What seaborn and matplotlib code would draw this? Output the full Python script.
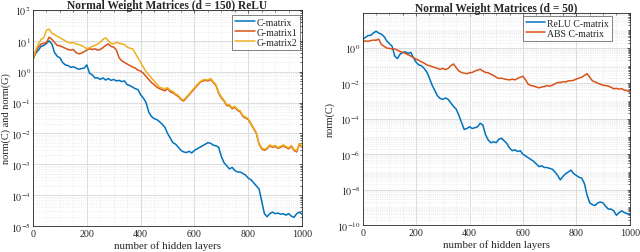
import numpy as np
import pandas as pd
import matplotlib
matplotlib.use("Agg")
import matplotlib.pyplot as plt
import seaborn as sns
from matplotlib.ticker import LogLocator, FixedLocator, NullFormatter

# ---- data (log10 of the norms, read every 10 layers) ----
layers = list(range(0, 1001, 10))

left_c_log = [0.41, 0.6, 0.7, 0.82, 0.85, 0.92, 1.0, 0.9, 0.62, 0.5,
              0.45, 0.3, 0.22, 0.2, 0.14, 0.16, 0.12, 0.08, 0.1, 0.12,
              0.22, -0.05, -0.1, -0.2, -0.2, -0.25, -0.2, -0.27, -0.22, -0.28,
              -0.25, -0.3, -0.28, -0.32, -0.3, -0.42, -0.45, -0.5, -0.55, -0.58,
              -0.75, -0.85, -1.0, -1.3, -1.45, -1.52, -1.55, -1.62, -1.7, -1.8,
              -2.0, -2.15, -2.3, -2.35, -2.45, -2.55, -2.6, -2.62, -2.58, -2.63,
              -2.55, -2.5, -2.45, -2.4, -2.35, -2.3, -2.32, -2.38, -2.4, -2.45,
              -2.75, -2.95, -3.05, -3.15, -3.1, -3.2, -3.25, -3.25, -3.3, -3.35,
              -3.45, -3.5, -3.6, -3.7, -3.8, -4.2, -4.6, -4.7, -4.6, -4.55,
              -4.6, -4.58, -4.62, -4.6, -4.65, -4.6, -4.68, -4.72, -4.6, -4.55,
              -4.62]

left_g1_log = [0.41, 0.65, 0.8, 0.9, 0.92, 0.95, 1.12, 1.05, 0.95, 0.85,
               0.84, 0.8, 0.76, 0.72, 0.7, 0.72, 0.62, 0.58, 0.6, 0.65,
               0.7, 0.75, 0.72, 0.74, 0.7, 0.72, 0.78, 0.85, 0.9, 0.82,
               0.8, 0.7, 0.45, 0.35, 0.3, 0.25, 0.2, 0.15, 0.12, 0.05,
               0.02, -0.05, -0.15, -0.25, -0.35, -0.42, -0.5, -0.55, -0.58, -0.62,
               -0.55, -0.65, -0.68, -0.75, -0.8, -0.9, -0.95, -0.85, -0.75, -0.65,
               -0.55, -0.45, -0.35, -0.3, -0.28, -0.3, -0.25, -0.35, -0.45, -0.7,
               -0.85, -0.95, -1.1, -1.1, -1.2, -1.15, -1.25, -1.3, -1.45, -1.5,
               -1.55, -1.7, -1.85, -2.0, -2.35, -2.5, -2.55, -2.5, -2.4, -2.45,
               -2.42, -2.48, -2.45, -2.4, -2.45, -2.5, -2.42, -2.55, -2.6, -2.35,
               -2.45]

left_g2_log = [0.41, 0.7, 0.9, 1.05, 1.1, 1.35, 1.38, 1.25, 1.2, 1.15,
               1.1, 1.05, 1.0, 0.95, 0.93, 0.95, 0.9, 0.88, 0.85, 0.8,
               0.74, 0.78, 0.82, 0.85, 0.9, 0.95, 1.05, 1.1, 1.0, 0.92,
               0.9, 0.95, 0.92, 0.9, 0.88, 0.8, 0.76, 0.74, 0.6, 0.45,
               0.3, 0.15, 0.0, -0.1, -0.2, -0.3, -0.4, -0.5, -0.53, -0.55,
               -0.52, -0.6, -0.64, -0.72, -0.77, -0.87, -0.92, -0.82, -0.72, -0.62,
               -0.52, -0.42, -0.33, -0.27, -0.25, -0.27, -0.22, -0.32, -0.42, -0.67,
               -0.82, -0.92, -1.07, -1.07, -1.17, -1.12, -1.22, -1.27, -1.42, -1.47,
               -1.52, -1.67, -1.82, -1.97, -2.32, -2.47, -2.52, -2.47, -2.37, -2.42,
               -2.39, -2.45, -2.42, -2.37, -2.42, -2.47, -2.39, -2.52, -2.56, -2.32,
               -2.42]

right_relu_log = [0.5, 0.6, 0.7, 0.72, 0.85, 0.95, 0.85, 0.78, 0.65, 0.4,
                  0.25, 0.1, -0.45, -0.6, -0.35, -0.25, -0.22, -0.3, -0.25, -0.55,
                  -0.8, -0.95, -1.0, -1.15, -1.35, -1.7, -2.1, -2.4, -2.7, -2.85,
                  -2.9, -2.82, -2.9, -3.1, -3.3, -3.45, -3.8, -4.2, -4.6, -4.55,
                  -4.45, -4.55, -4.5, -4.45, -4.25, -4.35, -4.9, -5.2, -5.35, -5.3,
                  -5.35, -5.15, -5.1, -5.25, -5.4, -5.65, -5.8, -5.75, -5.85, -5.8,
                  -6.0, -6.1, -6.2, -6.3, -6.4, -6.55, -6.7, -6.65, -6.75, -6.75,
                  -6.8, -6.85, -7.0, -7.2, -7.45, -7.25, -7.1, -7.0, -6.9, -7.1,
                  -7.2, -7.3, -7.35, -7.65, -8.3, -8.75, -8.85, -8.9, -8.75, -8.7,
                  -8.75, -8.95, -9.1, -9.1, -9.2, -9.45, -9.3, -9.2, -9.3, -9.35,
                  -9.45]

right_abs_log = [0.34, 0.4, 0.38, 0.42, 0.45, 0.44, 0.5, 0.2, 0.1, 0.0,
                 -0.02, -0.06, -0.05, -0.12, -0.2, -0.25, -0.3, -0.38, -0.45, -0.55,
                 -0.62, -0.7, -0.78, -0.85, -0.95, -1.0, -1.05, -1.1, -1.15, -1.2,
                 -1.15, -1.22, -1.15, -1.0, -0.9, -1.1, -1.3, -1.38, -1.42, -1.45,
                 -1.4, -1.38, -1.3, -1.25, -1.2, -1.3, -1.38, -1.4, -1.48, -1.55,
                 -1.65, -1.72, -1.7, -1.75, -1.78, -1.8, -1.76, -1.8, -1.72, -1.65,
                 -1.6, -1.8, -2.05, -2.12, -2.15, -2.2, -2.25, -2.2, -2.18, -2.12,
                 -2.15, -2.1, -2.02, -1.95, -1.95, -1.9, -1.92, -1.85, -1.85, -1.82,
                 -1.75, -1.7, -1.65, -1.55, -1.45, -1.65, -1.85, -1.92, -1.98, -2.05,
                 -2.1, -2.12, -2.15, -2.22, -2.3, -2.28, -2.32, -2.3, -2.38, -2.4,
                 -2.5]

left_title = "Normal Weight Matrices (d = 150) ReLU"
right_title = "Normal Weight Matrices (d = 50)"
left_labels = ["C-matrix", "G-matrix1", "G-matrix2"]
right_labels = ["ReLU C-matrix", "ABS C-matrix"]
xlabel = "number of hidden layers"

colors = ["#0072BD", "#D95319", "#EDB120"]

sns.set_style("white")
plt.rcParams["font.family"] = ["Liberation Serif", "DejaVu Serif"]
plt.rcParams["mathtext.fontset"] = "stix"

fig = plt.figure(figsize=(6.4, 2.53), dpi=100)
axL = fig.add_axes([0.0516, 0.1028, 0.4204, 0.8537])
axR = fig.add_axes([0.5667, 0.1067, 0.4173, 0.8380])

x = np.array(layers)

def style_axis(ax, ylim, major_exps):
    ax.set_yscale("log")
    ax.set_xlim(0, 1000)
    ax.set_ylim(*ylim)
    ax.set_xticks([0, 200, 400, 600, 800, 1000])
    ax.yaxis.set_major_locator(FixedLocator([10.0 ** e for e in major_exps]))
    ax.yaxis.set_major_formatter(matplotlib.ticker.FuncFormatter(
        lambda v, p: r"$10^{%d}$" % int(round(np.log10(v)))))
    ax.yaxis.set_minor_locator(LogLocator(base=10, subs=np.arange(1, 10), numticks=100))
    ax.yaxis.set_minor_formatter(NullFormatter())
    ax.xaxis.set_minor_locator(FixedLocator(np.arange(50, 1000, 50)))
    ax.grid(True, which="major", color="#dcdcdc", linewidth=0.7)
    ax.grid(True, which="minor", color="#e2e2e2", linewidth=0.5, linestyle=":")
    ax.tick_params(which="both", direction="in", top=True, right=True,
                   labelsize=7.2, colors="#262626", length=2.5, width=0.5)
    ax.tick_params(axis="y", pad=1.5)
    ax.tick_params(axis="x", pad=2.5)
    ax.tick_params(which="minor", length=1.3)
    for s in ax.spines.values():
        s.set_color("#262626")
        s.set_linewidth(0.6)
    ax.set_xlabel(xlabel, fontsize=7.8, labelpad=1)
    ax.set_axisbelow(True)

def make_legend(ax, anchor):
    leg = ax.legend(loc="upper right", bbox_to_anchor=anchor, fontsize=7, frameon=True,
                    fancybox=False, edgecolor="#262626", handlelength=2.0,
                    borderpad=0.3, labelspacing=0.1, handletextpad=0.2,
                    borderaxespad=0.0)
    leg.get_frame().set_linewidth(0.5)
    return leg

for vals, lab, col in zip([left_c_log, left_g1_log, left_g2_log], left_labels, colors):
    sns.lineplot(x=x, y=10.0 ** np.array(vals), ax=axL, color=col, label=lab, linewidth=1.1)
style_axis(axL, (1e-5, 1e2), range(-5, 3))
axL.set_ylabel("norm(C) and norm(G)", fontsize=7.4)
axL.yaxis.set_label_coords(-0.08, 0.5)
axL.set_title(left_title, fontsize=8.3, fontweight="bold", pad=1.5)
make_legend(axL, (0.993, 0.977))

for vals, lab, col in zip([right_relu_log, right_abs_log], right_labels, colors[:2]):
    sns.lineplot(x=x, y=10.0 ** np.array(vals), ax=axR, color=col, label=lab, linewidth=1.1)
style_axis(axR, (1e-10, 10 ** 1.98), range(-10, 1, 2))
axR.set_ylabel("norm(C)", fontsize=7.4)
axR.yaxis.set_label_coords(-0.105, 0.5)
axR.set_title(right_title, fontsize=8.3, fontweight="bold", pad=1.5)
make_legend(axR, (0.933, 0.986))

fig.savefig("out.png", dpi=100)
